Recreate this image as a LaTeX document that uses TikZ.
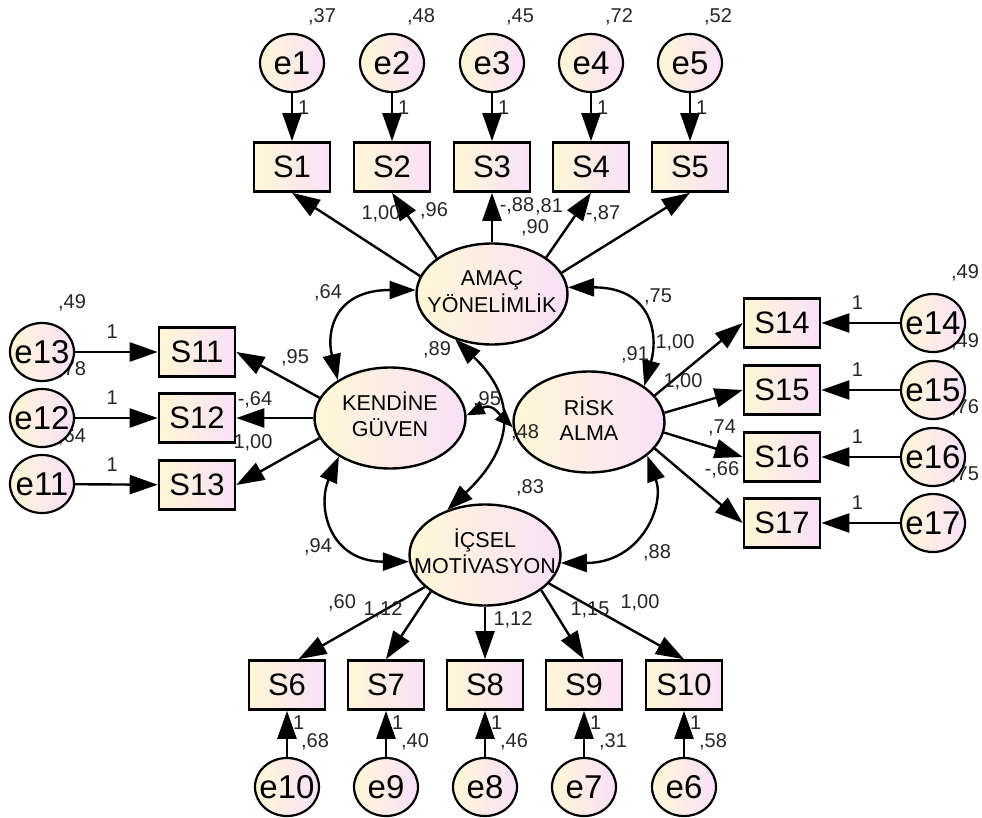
\documentclass[tikz,border=0pt]{standalone}
\usepackage{fontspec}
\setmainfont{Liberation Sans}
\usetikzlibrary{arrows.meta, shapes.geometric}
\definecolor{cyel}{HTML}{FFF7D6}
\definecolor{cpink}{HTML}{F8E0F8}
\newcommand{\zw}[1]{\makebox[0pt]{#1}}
\newcommand{\twoline}[2]{\makebox[0pt]{\begin{tabular}{@{}c@{}}#1\\#2\end{tabular}}}

\begin{document}
\begin{tikzpicture}[x=1pt, y=-1pt,
  obs/.style={draw, line width=2.6pt, left color=cyel, right color=cpink,
              minimum width=76pt, minimum height=49pt, inner sep=0pt, font=\fontsize{31}{33}\selectfont},
  err/.style={ellipse, draw, line width=2.2pt, left color=cyel, right color=cpink,
              minimum width=64pt, minimum height=58pt, inner sep=0pt, font=\fontsize{33}{35}\selectfont},
  lat/.style={ellipse, draw, line width=2.4pt, left color=cyel, right color=cpink,
              minimum width=151pt, minimum height=101pt, inner sep=0pt, font=\fontsize{21.5}{25}\selectfont},
  arr/.style={-{Triangle[length=28pt,width=19pt]}, line width=2.4pt},
  cov/.style={{Triangle[length=26pt,width=18pt]}-{Triangle[length=26pt,width=18pt]}, line width=2.4pt},
  covs/.style={{Triangle[length=18pt,width=14pt]}-{Triangle[length=18pt,width=14pt]}, line width=2.4pt},
  num/.style={font=\fontsize{20}{22}\selectfont, inner sep=0pt, text=black!85}
]
\useasboundingbox (0,0) rectangle (982,818);

% variances (under the error circles)
\node[num] (v1)  at (322,17)  {,37};
\node[num] (v2)  at (421,17)  {,48};
\node[num] (v3)  at (520,17)  {,45};
\node[num] (v4)  at (619,17)  {,72};
\node[num] (v5)  at (718,17)  {,52};
\node[num] (v13) at (72,303)  {,49};
\node[num] (v12) at (72,370)  {,78};
\node[num] (v11) at (72,437)  {,64};
\node[num] (v14) at (965,273) {,49};
\node[num] (v15) at (965,342) {,49};
\node[num] (v16) at (965,408) {,76};
\node[num] (v17) at (965,475) {,75};
\node[num] (v10) at (315,742) {,68};
\node[num] (v9)  at (415,742) {,40};
\node[num] (v8)  at (514,742) {,46};
\node[num] (v7)  at (613,742) {,31};
\node[num] (v6)  at (713,742) {,58};

% error terms
\node[err] (e1)  at (292,63)  {\zw{e1}};
\node[err] (e2)  at (392,63)  {\zw{e2}};
\node[err] (e3)  at (492,63)  {\zw{e3}};
\node[err] (e4)  at (591,63)  {\zw{e4}};
\node[err] (e5)  at (690,63)  {\zw{e5}};
\node[err] (e13) at (42,352)  {\zw{e13}};
\node[err] (e12) at (42,418)  {\zw{e12}};
\node[err] (e11) at (42,484)  {\zw{e11}};
\node[err] (e14) at (933,323) {\zw{e14}};
\node[err] (e15) at (933,390) {\zw{e15}};
\node[err] (e16) at (933,457) {\zw{e16}};
\node[err] (e17) at (933,523) {\zw{e17}};
\node[err] (e10) at (287,787) {\zw{e10}};
\node[err] (e9)  at (386,787) {\zw{e9}};
\node[err] (e8)  at (485,787) {\zw{e8}};
\node[err] (e7)  at (584,787) {\zw{e7}};
\node[err] (e6)  at (684,787) {\zw{e6}};

% items
\node[obs] (s1)  at (292,167) {S1};
\node[obs] (s2)  at (392,167) {S2};
\node[obs] (s3)  at (492,167) {S3};
\node[obs] (s4)  at (591,167) {S4};
\node[obs] (s5)  at (690,167) {S5};
\node[obs] (s11) at (197,352) {S11};
\node[obs] (s12) at (197,418) {S12};
\node[obs] (s13) at (197,485) {S13};
\node[obs] (s14) at (782,323) {S14};
\node[obs] (s15) at (782,390) {S15};
\node[obs] (s16) at (782,457) {S16};
\node[obs] (s17) at (782,523) {S17};
\node[obs] (s6)  at (287,685) {S6};
\node[obs] (s7)  at (386,685) {S7};
\node[obs] (s8)  at (485,685) {S8};
\node[obs] (s9)  at (584,685) {S9};
\node[obs] (s10) at (684,685) {S10};

% factors
\node[lat] (amac)  at (492,294) {\twoline{AMAÇ}{YÖNELİMLİK}};
\node[lat] (kg)    at (390,418) {\twoline{KENDİNE}{GÜVEN}};
\node[lat] (risk)  at (589,422) {\twoline{RİSK}{ALMA}};
\node[lat] (icsel) at (485,555) {\twoline{İÇSEL}{MOTİVASYON}};

% error paths
\draw[arr] (e1) -- node[num, right=5pt, pos=.3] (w1) {1} (s1);
\draw[arr] (e2) -- node[num, right=5pt, pos=.3] (w2) {1} (s2);
\draw[arr] (e3) -- node[num, right=5pt, pos=.3] (w3) {1} (s3);
\draw[arr] (e4) -- node[num, right=5pt, pos=.3] (w4) {1} (s4);
\draw[arr] (e5) -- node[num, right=5pt, pos=.3] (w5) {1} (s5);
\draw[arr] (e13) -- node[num, above=12pt, pos=.45] (w13) {1} (s11);
\draw[arr] (e12) -- node[num, above=12pt, pos=.45] (w12) {1} (s12);
\draw[arr] (e11) -- node[num, above=12pt, pos=.45] (w11) {1} (s13);
\draw[arr] (e14) -- node[num, above=12pt, pos=.54] (w14) {1} (s14);
\draw[arr] (e15) -- node[num, above=12pt, pos=.54] (w15) {1} (s15);
\draw[arr] (e16) -- node[num, above=12pt, pos=.54] (w16) {1} (s16);
\draw[arr] (e17) -- node[num, above=12pt, pos=.54] (w17) {1} (s17);
\draw[arr] (e10) -- node[num, right=5pt, pos=.74] (w10) {1} (s6);
\draw[arr] (e9)  -- node[num, right=5pt, pos=.74] (w9)  {1} (s7);
\draw[arr] (e8)  -- node[num, right=5pt, pos=.74] (w8)  {1} (s8);
\draw[arr] (e7)  -- node[num, right=5pt, pos=.74] (w7)  {1} (s9);
\draw[arr] (e6)  -- node[num, right=5pt, pos=.74] (w6)  {1} (s10);

% loadings
\draw[arr] (amac.166)  -- (s1.south);
\draw[arr] (amac.147)  -- (s2.south);
\draw[arr] (amac.north) -- (s3.south);
\draw[arr] (amac.34)   -- (s4.south);
\draw[arr] (amac.17)   -- (s5.south);
\draw[arr] (kg.164)    -- (s11.east);
\draw[arr] (kg.west)   -- (s12.east);
\draw[arr] (kg.196)    -- (s13.east);
\draw[arr] (risk.22)   -- (s14.west);
\draw[arr] (risk.7)    -- (s15.west);
\draw[arr] (risk.-8)   -- (s16.west);
\draw[arr] (risk.-22)  -- (s17.west);
\draw[arr] (icsel.208) -- (s6.66);
\draw[arr] (icsel.214) -- (s7.north);
\draw[arr] (icsel.south) -- (s8.north);
\draw[arr] (icsel.-32) -- (s9.north);
\draw[arr] (icsel.-24) -- (s10.north);

% covariances
\draw[cov] (amac.177) .. controls +(-80,0) and +(-12,-50) .. (kg.144);
\draw[cov] (amac.5) .. controls +(85,0) and +(14,-50) .. (risk.33);
\draw[cov] (kg.217) .. controls +(-22,50) and +(-80,0) .. (icsel.185);
\draw[cov] (risk.-30) .. controls +(18,50) and +(80,0) .. (icsel.354);
\draw[cov] (amac.231) .. controls +(64,61) and +(65,-61) .. (icsel.130);
\draw[covs] (kg.2) .. controls +(25,-12) and +(-15,-15) .. (risk.184);

% estimates
\node[num] (l1)  at (381,214) {1,00};
\node[num] (l2)  at (434,211) {,96};
\node[num] (l3)  at (517,206) {-,88};
\node[num] (l4)  at (549,207) {,81};
\node[num] (l5)  at (535,228) {,90};
\node[num] (l6)  at (603,214) {-,87};
\node[num] (c1)  at (328,293) {,64};
\node[num] (c2)  at (658,297) {,75};
\node[num] (c3)  at (437,350) {,89};
\node[num] (l7)  at (295,358) {,95};
\node[num] (l8)  at (255,400) {-,64};
\node[num] (l9)  at (253,443) {1,00};
\node[num] (l10) at (635,355) {,91};
\node[num] (l11) at (675,343) {1,00};
\node[num] (l12) at (683,382) {1,00};
\node[num] (l13) at (722,428) {,74};
\node[num] (l14) at (722,470) {-,66};
\node[num] (c4)  at (487,400) {,95};
\node[num] (c5)  at (525,433) {,48};
\node[num] (c6)  at (530,488) {,83};
\node[num] (c7)  at (318,547) {,94};
\node[num] (c8)  at (657,553) {,88};
\node[num] (l15) at (342,603) {,60};
\node[num] (l16) at (383,610) {1,12};
\node[num] (l17) at (513,620) {1,12};
\node[num] (l18) at (590,610) {1,15};
\node[num] (l19) at (640,603) {1,00};
\end{tikzpicture}
\end{document}
